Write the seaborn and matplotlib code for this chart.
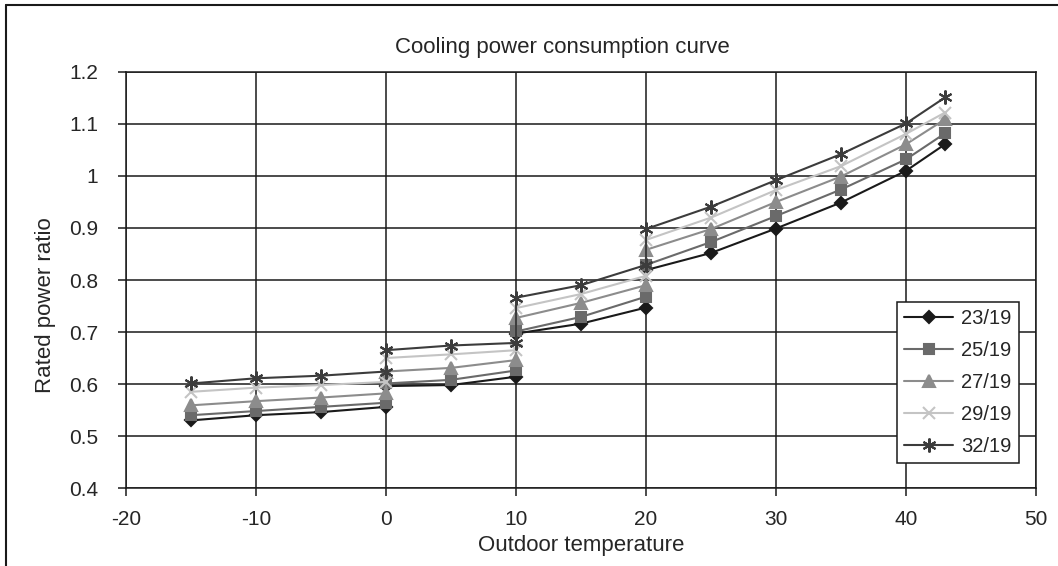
import numpy as np
import pandas as pd
import seaborn as sns
import matplotlib.pyplot as plt
from matplotlib.ticker import FuncFormatter, MultipleLocator
from matplotlib.lines import Line2D

# outdoor temperature; 0, 10 and 20 appear twice (step in the curve)
temps = [-15, -10, -5, 0, 0, 5, 10, 10, 15, 20, 20, 25, 30, 35, 40, 43]

r23 = [0.530, 0.540, 0.546, 0.556, 0.596, 0.598, 0.614, 0.697, 0.716, 0.747, 0.819, 0.852, 0.899, 0.949, 1.010, 1.061]
r25 = [0.540, 0.548, 0.556, 0.564, 0.601, 0.608, 0.626, 0.701, 0.729, 0.768, 0.829, 0.873, 0.923, 0.974, 1.032, 1.082]
r27 = [0.559, 0.567, 0.574, 0.582, 0.624, 0.631, 0.646, 0.727, 0.756, 0.790, 0.858, 0.898, 0.950, 0.999, 1.061, 1.109]
r29 = [0.585, 0.593, 0.598, 0.604, 0.650, 0.657, 0.665, 0.746, 0.773, 0.808, 0.877, 0.920, 0.973, 1.019, 1.081, 1.122]
r32 = [0.601, 0.611, 0.616, 0.624, 0.665, 0.674, 0.679, 0.766, 0.790, 0.829, 0.898, 0.941, 0.992, 1.042, 1.101, 1.151]

labels = ["23/19", "25/19", "27/19", "29/19", "32/19"]
series = [r23, r25, r27, r29, r32]

colors = {"23/19": "#1a1a1a", "25/19": "#6a6a6a", "27/19": "#8c8c8c",
          "29/19": "#c4c4c4", "32/19": "#3c3c3c"}
markers = {"23/19": "D", "25/19": "s", "27/19": "^", "29/19": "x", "32/19": (6, 2, 0)}
msizes = {"23/19": 6, "25/19": 7, "27/19": 8, "29/19": 8, "32/19": 10}

rows = []
for lab, vals in zip(labels, series):
    for t, v in zip(temps, vals):
        rows.append({"temp": t, "ratio": v, "series": lab})
df = pd.DataFrame(rows)

sns.set_style("white")
plt.rcParams["font.family"] = ["Liberation Sans", "DejaVu Sans"]
plt.rcParams["axes.unicode_minus"] = False

fig, ax = plt.subplots(figsize=(10.58, 5.66), dpi=100)
fig.subplots_adjust(left=0.1191, right=0.9792, top=0.8728, bottom=0.1378)

for lab in labels:
    sub = df[df["series"] == lab]
    sns.lineplot(data=sub, x="temp", y="ratio", ax=ax, estimator=None, sort=False,
                 color=colors[lab], marker=markers[lab], markersize=msizes[lab],
                 markeredgecolor=colors[lab], markeredgewidth=1.5, linewidth=1.5,
                 label=lab)

ax.set_xlim(-20, 50)
ax.set_ylim(0.4, 1.2)
ax.xaxis.set_major_locator(MultipleLocator(10))
ax.yaxis.set_major_locator(MultipleLocator(0.1))
ax.yaxis.set_major_formatter(FuncFormatter(lambda v, p: "%g" % round(v, 2)))
ax.grid(True, color="#1a1a1a", linewidth=1.1)
ax.set_axisbelow(True)
for s in ax.spines.values():
    s.set_color("#1a1a1a")
    s.set_linewidth(1.1)
ax.tick_params(direction="out", length=6, width=1.1, color="#1a1a1a",
               labelsize=15, bottom=True, left=True)
ax.tick_params(axis="x", pad=10)
ax.tick_params(axis="y", pad=14)

ax.set_xlabel("Outdoor temperature", fontsize=16, labelpad=4)
ax.set_ylabel("Rated power ratio", fontsize=16)
ax.yaxis.set_label_coords(-0.077, 0.44)
ax.set_title("Cooling power consumption curve", fontsize=16, pad=14, x=0.48)

handles = [Line2D([], [], color=colors[l], marker=markers[l], markersize=msizes[l],
                  markeredgecolor=colors[l], markeredgewidth=1.5, linewidth=1.5)
           for l in labels]
leg = ax.legend(handles, labels, loc="upper left",
                bbox_to_anchor=(897 / 1058, 1 - 302 / 566), bbox_transform=fig.transFigure,
                fontsize=14.5, frameon=True, fancybox=False, framealpha=1,
                edgecolor="#1a1a1a", handlelength=2.45, handletextpad=0.4,
                labelspacing=0.64, borderpad=0.35, borderaxespad=0)
leg.get_frame().set_linewidth(1.1)

# chart-area border (top and left edges visible)
fig.add_artist(Line2D([6 / 1058, 1.0], [1 - 5 / 566, 1 - 5 / 566], transform=fig.transFigure,
                      color="#1a1a1a", linewidth=1.5))
fig.add_artist(Line2D([6 / 1058, 6 / 1058], [0.0, 1 - 5 / 566], transform=fig.transFigure,
                      color="#1a1a1a", linewidth=1.5))

fig.savefig("out.png", dpi=100)
